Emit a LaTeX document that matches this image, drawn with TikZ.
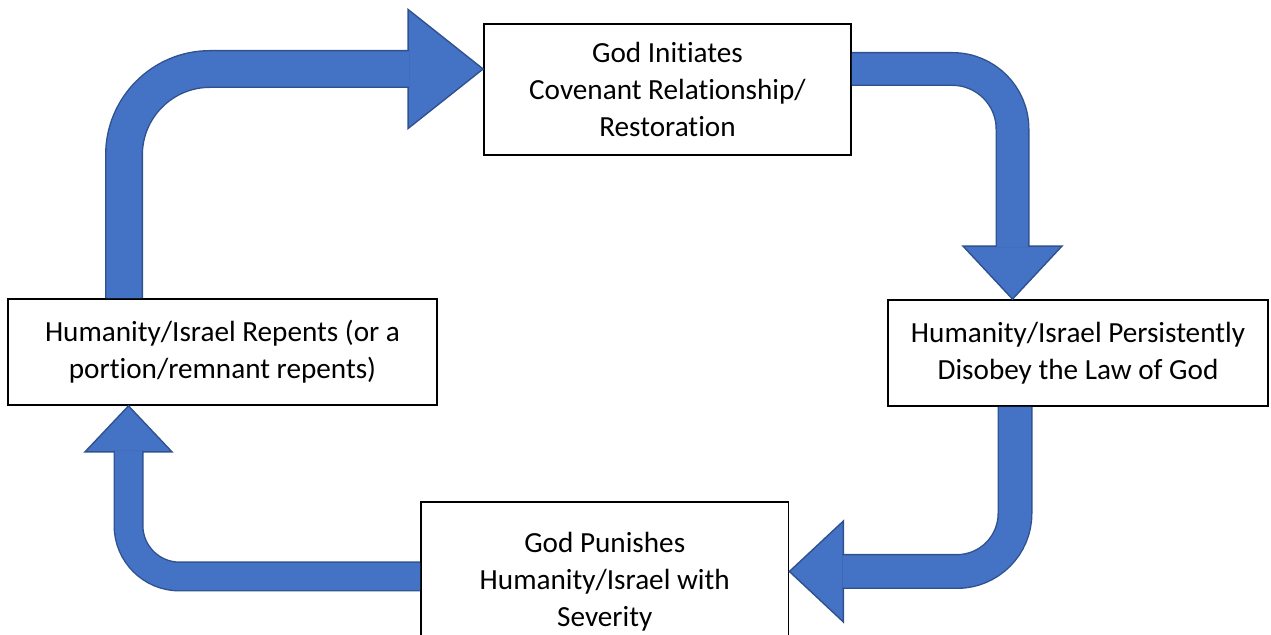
\documentclass[tikz,border=0pt]{standalone}
\usepackage{fontspec}
\setmainfont{Carlito}[Ligatures=NoCommon]
\usetikzlibrary{calc}
\definecolor{arrowblue}{HTML}{4472C4}
\definecolor{arrowedge}{HTML}{2F528F}
\tikzset{
  stagebox/.style={draw=black, fill=white, line width=0.9pt, align=center, inner sep=0pt,
    font=\fontsize{14.6pt}{18.5pt}\selectfont},
  tube/.style={draw=arrowedge, line width=0.7pt, double=arrowblue, double distance=#1},
  headtip/.style={fill=arrowblue, draw=arrowedge, line width=0.7pt, line join=miter},
}
\begin{document}
\begin{tikzpicture}[x=0.5pt,y=-0.5pt]
\useasboundingbox (0,0) rectangle (1271,635);
\clip (0,0) rectangle (1271,635);
\fill[white] (0,0) rectangle (1271,635);

% boxes
\node[stagebox, minimum width=183.5pt, minimum height=65.5pt] (T) at (667.5,89.5)
  {God Initiates\\Covenant Relationship/\\Restoration};
\node[stagebox, minimum width=190pt, minimum height=53pt] (R) at (1078,353)
  {Humanity/Israel Persistently\\Disobey the Law of God};
\node[stagebox, minimum width=214.5pt, minimum height=53pt] (L) at (222.5,352)
  {Humanity/Israel Repents (or a\\portion/remnant repents)};
\node[stagebox, minimum width=183.75pt, minimum height=80pt] (B) at (604.75,582)
  {God Punishes\\Humanity/Israel with\\Severity};

% arrow 1: L -> T
\coordinate (a1s) at (124,0 |- L.north);
\coordinate (a1t) at (T.west |- 0,69);
\draw[headtip] ($(a1t)+(-75,-59.5)$) -- (a1t) -- ($(a1t)+(-75,59.5)$) -- cycle;
\draw[tube=17.6pt, rounded corners=43pt] (a1s) |- ($(a1t)+(-74,0)$);

% arrow 2: T -> R
\coordinate (a2s) at (T.east |- 0,69);
\coordinate (a2t) at (1012.5,0 |- R.north);
\draw[headtip] ($(a2t)+(-49.5,-53)$) -- (a2t) -- ($(a2t)+(49.5,-53)$) -- cycle;
\draw[tube=15.6pt, rounded corners=30pt] (a2s) -| ($(a2t)+(0,-52)$);

% arrow 3: R -> B
\coordinate (a3s) at (1015,0 |- R.south);
\coordinate (a3t) at (B.east |- 0,571.5);
\draw[headtip] ($(a3t)+(54,-50.5)$) -- (a3t) -- ($(a3t)+(54,50.5)$) -- cycle;
\draw[tube=16.1pt, rounded corners=29pt] (a3s) |- ($(a3t)+(53,0)$);

% arrow 4: B -> L
\coordinate (a4s) at (B.west |- 0,576.5);
\coordinate (a4t) at (128.5,0 |- L.south);
\draw[headtip] ($(a4t)+(-43.5,46)$) -- (a4t) -- ($(a4t)+(43.5,46)$) -- cycle;
\draw[tube=13.6pt, rounded corners=25.5pt] (a4s) -| ($(a4t)+(0,45)$);
\end{tikzpicture}
\end{document}
